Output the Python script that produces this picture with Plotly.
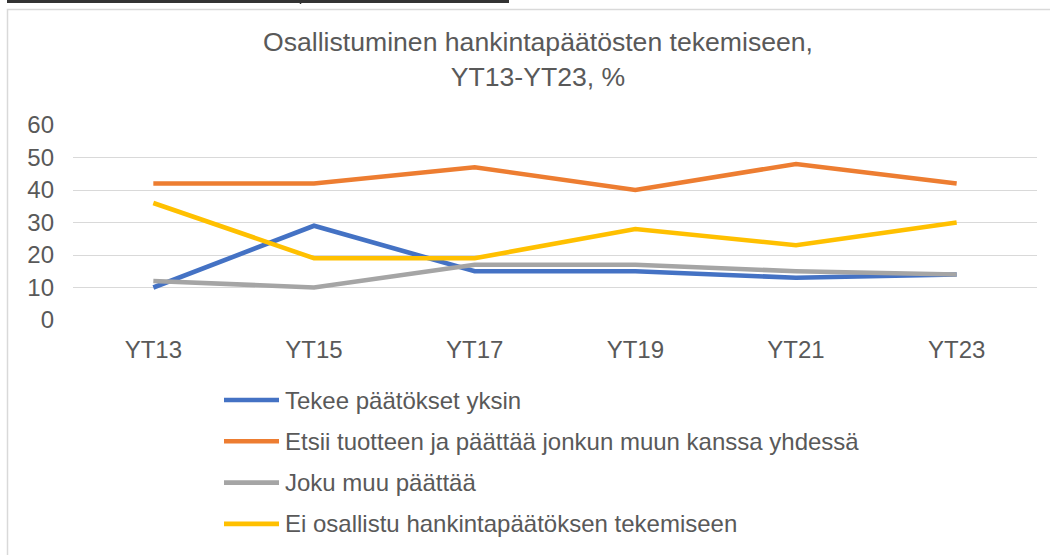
import plotly.graph_objects as go

categories = ["YT13", "YT15", "YT17", "YT19", "YT21", "YT23"]
tekee_yksin = [10, 29, 15, 15, 13, 14]
etsii_yhdessa = [42, 42, 47, 40, 48, 42]
joku_muu = [12, 10, 17, 17, 15, 14]
ei_osallistu = [36, 19, 19, 28, 23, 30]

series = [
    ("Tekee päätökset yksin", tekee_yksin, "#4472C4"),
    ("Etsii tuotteen ja päättää jonkun muun kanssa yhdessä", etsii_yhdessa, "#ED7D31"),
    ("Joku muu päättää", joku_muu, "#A5A5A5"),
    ("Ei osallistu hankintapäätöksen tekemiseen", ei_osallistu, "#FFC000"),
]

W, H = 1050, 555
L, R, T, B = 73, 13, 125, 235
pw, ph = W - L - R, H - T - B


def px(x):
    return (x - L) / pw


def py(y):
    return (H - B - y) / ph


TXT = "#595959"
FONT = "Liberation Sans, Arial, sans-serif"

fig = go.Figure()
for name, vals, col in series:
    fig.add_trace(go.Scatter(
        x=categories, y=vals, name=name, mode="lines",
        line=dict(color=col, width=4.6), showlegend=False,
    ))

fig.update_layout(
    width=W, height=H,
    margin=dict(l=L, r=R, t=T, b=B, autoexpand=False),
    paper_bgcolor="white", plot_bgcolor="white",
    font=dict(family=FONT, color=TXT, size=24),
    title=dict(
        text="Osallistuminen hankintapäätösten tekemiseen,<br>YT13-YT23, %",
        x=538 / W, xanchor="center", xref="container",
        y=1 - 51 / H, yanchor="middle", yref="container",
        font=dict(size=26.6, color=TXT, family=FONT),
    ),
    xaxis=dict(range=[-0.5, 5.5], showgrid=False, showline=False, ticks="",
               tickfont=dict(size=24), ticklabelstandoff=13, automargin=False,
               fixedrange=True),
    yaxis=dict(range=[0, 60], dtick=10, showgrid=True, gridcolor="#D9D9D9",
               gridwidth=1.4, zeroline=False, showline=False, ticks="",
               tickfont=dict(size=24), ticklabelstandoff=18, automargin=False,
               fixedrange=True),
    showlegend=False,
)

# manual legend with long line keys like the original
leg_x0, leg_x1, leg_tx = 224, 279, 283
leg_y0, leg_dy = 400, 41.3
for i, (name, vals, col) in enumerate(series):
    yy = leg_y0 + i * leg_dy
    fig.add_shape(type="line", xref="paper", yref="paper",
                  x0=px(leg_x0), x1=px(leg_x1), y0=py(yy), y1=py(yy),
                  line=dict(color=col, width=4.6))
    fig.add_annotation(xref="paper", yref="paper", x=px(leg_tx), y=py(yy),
                       xanchor="left", yanchor="middle", text=name,
                       showarrow=False, font=dict(size=24, color=TXT, family=FONT))

# chart border and top rule
fig.add_shape(type="rect", xref="paper", yref="paper",
              x0=px(7.5), x1=px(1070), y0=py(9.5), y1=py(575),
              line=dict(color="#D9D9D9", width=1.5), fillcolor="rgba(0,0,0,0)",
              layer="below")
fig.add_shape(type="line", xref="paper", yref="paper",
              x0=px(7), x1=px(509), y0=py(1.5), y1=py(1.5),
              line=dict(color="#333333", width=3))
fig.add_shape(type="line", xref="paper", yref="paper",
              x0=px(300.5), x1=px(300.5), y0=py(0), y1=py(4),
              line=dict(color="#333333", width=1.5))

fig.write_html(
    "out.html",
    config={"displayModeBar": False},
    post_script="document.body.style.margin='0';document.body.style.overflow='hidden';",
)
